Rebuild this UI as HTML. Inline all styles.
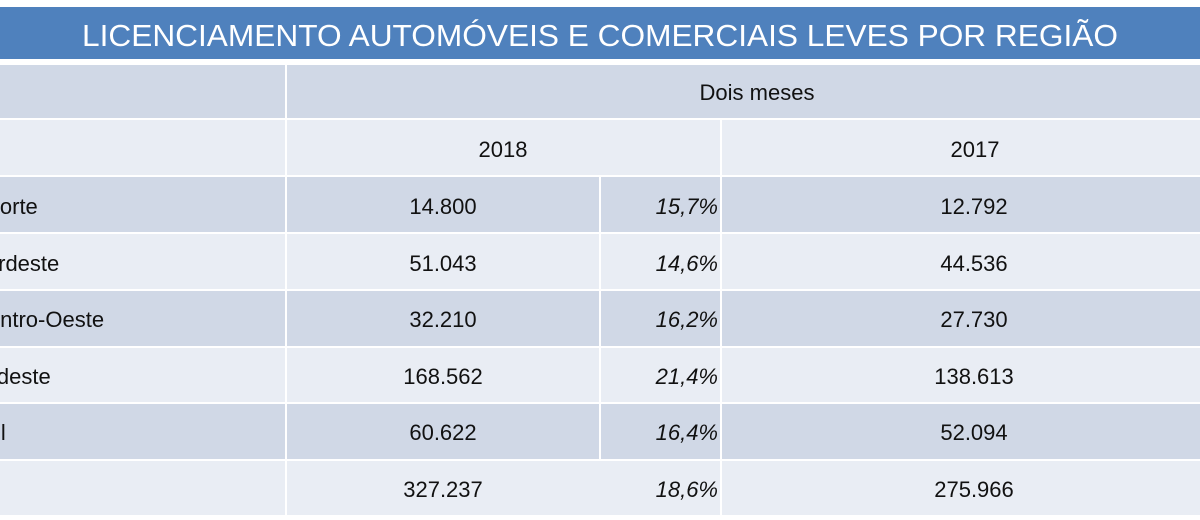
<!DOCTYPE html>
<html><head><meta charset="utf-8"><style>
html,body{margin:0;padding:0;background:#fff;width:1200px;height:520px;overflow:hidden}
svg{display:block}
text{font-family:"Liberation Sans",sans-serif;fill:#111;font-size:22px}
</style></head><body>
<svg width="1200" height="520" viewBox="0 0 1200 520">
<rect x="0" y="0" width="1200" height="520" fill="#fff"/>
<rect x="0" y="7" width="1200" height="52" fill="#4f81bd"/>
<text x="600" y="46" text-anchor="middle" style="fill:#fff;font-size:31px" textLength="1036" lengthAdjust="spacingAndGlyphs">LICENCIAMENTO AUTOMÓVEIS E COMERCIAIS LEVES POR REGIÃO</text>
<rect x="0" y="65" width="1200" height="53" fill="#d0d8e6"/>
<rect x="0" y="120" width="1200" height="55" fill="#e9edf4"/>
<rect x="0" y="177" width="1200" height="55" fill="#d0d8e6"/>
<rect x="0" y="234" width="1200" height="55" fill="#e9edf4"/>
<rect x="0" y="291" width="1200" height="55" fill="#d0d8e6"/>
<rect x="0" y="348" width="1200" height="54" fill="#e9edf4"/>
<rect x="0" y="404" width="1200" height="55" fill="#d0d8e6"/>
<rect x="0" y="461" width="1200" height="54" fill="#e9edf4"/>
<rect x="285" y="65" width="2" height="450" fill="#fff"/>
<rect x="720" y="120" width="2" height="395" fill="#fff"/>
<rect x="599" y="177" width="2" height="282" fill="#fff"/>
<text x="757" y="100" text-anchor="middle">Dois meses</text>
<text x="503" y="157" text-anchor="middle">2018</text>
<text x="975" y="157" text-anchor="middle">2017</text>
<g>
<text x="-16" y="214">Norte</text>
<text x="-30" y="271">Nordeste</text>
<text x="-28" y="327">Centro-Oeste</text>
<text x="-30" y="384">Sudeste</text>
<text x="-26" y="440">Sul</text>
</g>
<g text-anchor="middle">
<text x="443" y="214">14.800</text>
<text x="443" y="271">51.043</text>
<text x="443" y="327">32.210</text>
<text x="443" y="384">168.562</text>
<text x="443" y="440">60.622</text>
<text x="443" y="497">327.237</text>
<text x="974" y="214">12.792</text>
<text x="974" y="271">44.536</text>
<text x="974" y="327">27.730</text>
<text x="974" y="384">138.613</text>
<text x="974" y="440">52.094</text>
<text x="974" y="497">275.966</text>
</g>
<g text-anchor="end" font-style="italic">
<text x="718" y="214">15,7%</text>
<text x="718" y="271">14,6%</text>
<text x="718" y="327">16,2%</text>
<text x="718" y="384">21,4%</text>
<text x="718" y="440">16,4%</text>
<text x="718" y="497">18,6%</text>
</g>
</svg>
</body></html>
